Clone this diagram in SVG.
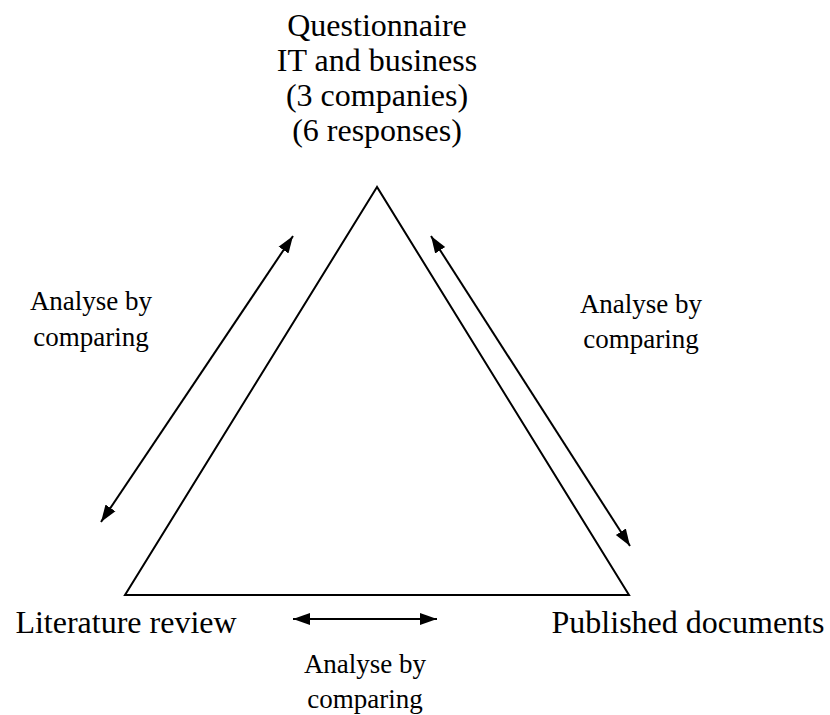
<svg xmlns="http://www.w3.org/2000/svg" width="830" height="715" viewBox="0 0 830 715">
<style>
.big{font-size:32px}
.small{font-size:27px}
.ln{stroke:#000;stroke-width:2;fill:none}
</style>
<defs>
<marker id="ah" viewBox="0 0 10 10" refX="10" refY="5" markerWidth="17" markerHeight="17" markerUnits="userSpaceOnUse" orient="auto-start-reverse">
<path d="M0,1.5 L10,5 L0,8.5 z" fill="#000"/>
</marker>
</defs>
<rect width="830" height="715" fill="#fff"/>
<g id="triangle">
<polygon class="ln" points="377,187 125,595 629,595"/>
</g>
<g font-family="Liberation Serif, serif" fill="#000" text-anchor="middle">
<g id="questionnaire">
<text class="big" x="377" y="36">Questionnaire</text>
<text class="big" x="377" y="71">IT and business</text>
<text class="big" x="377" y="106">(3 companies)</text>
<text class="big" x="377" y="141">(6 responses)</text>
</g>
<g id="literature">
<text class="big" x="126" y="633">Literature review</text>
</g>
<g id="published">
<text class="big" x="688" y="633">Published documents</text>
</g>
<g id="labels">
<text class="small" x="91" y="310">Analyse by</text>
<text class="small" x="91" y="346">comparing</text>
<text class="small" x="641" y="313">Analyse by</text>
<text class="small" x="641" y="348">comparing</text>
<text class="small" x="365" y="673">Analyse by</text>
<text class="small" x="365" y="708">comparing</text>
</g>
</g>
<g id="connectors">
<line class="ln" x1="293" y1="236" x2="101" y2="522" marker-start="url(#ah)" marker-end="url(#ah)"/>
<line class="ln" x1="431" y1="236" x2="630" y2="546" marker-start="url(#ah)" marker-end="url(#ah)"/>
<line class="ln" x1="293" y1="619" x2="437" y2="619" marker-start="url(#ah)" marker-end="url(#ah)"/>
</g>
</svg>
